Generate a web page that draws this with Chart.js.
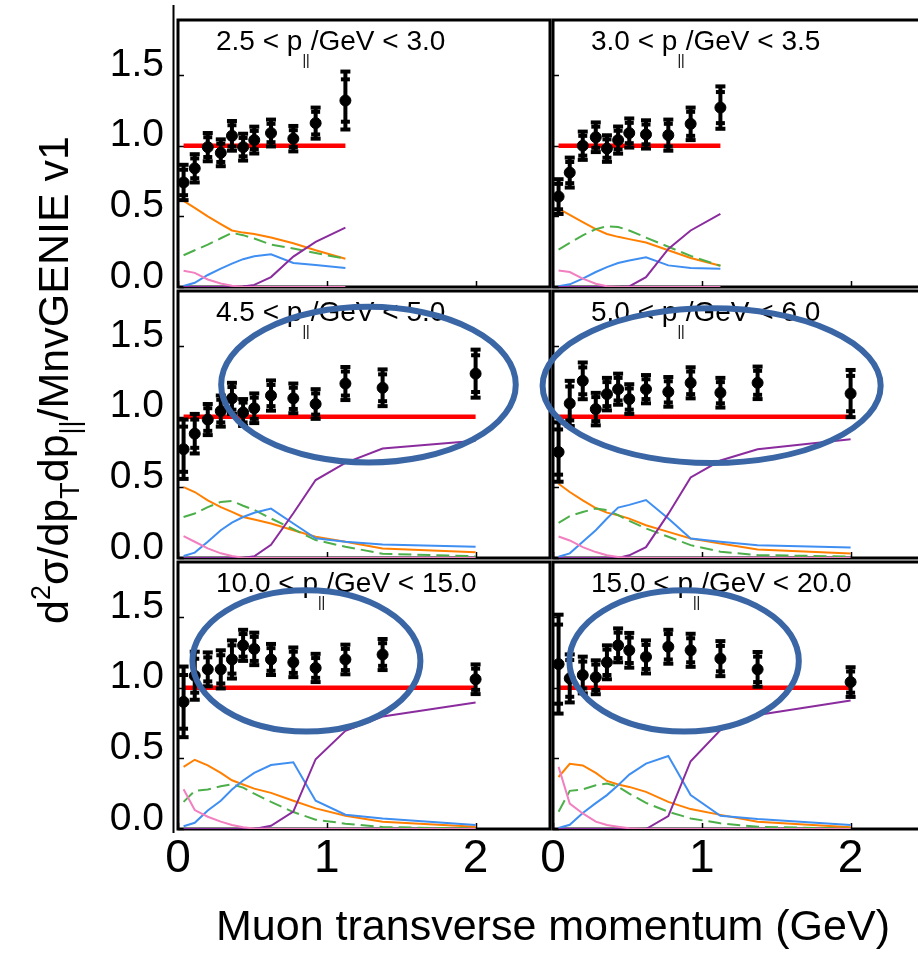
<!DOCTYPE html>
<html>
<head>
<meta charset="utf-8">
<script src="https://cdn.jsdelivr.net/npm/chart.js@4.4.1/dist/chart.umd.min.js"></script>
<style>
  html, body { margin: 0; background: #fff; }
  #page { position: relative; width: 918px; height: 953px; overflow: hidden; background: #fff; }
  #page canvas { position: absolute; left: 0; top: 0; }
</style>
</head>
<body>
<div id="page"></div>
<script>
// pT bin centres (GeV); the high-p|| slices carry two extra bins
const ptCentersShort = [0.0375, 0.1125, 0.2, 0.2875, 0.3625, 0.4375, 0.5125, 0.625, 0.775, 0.925, 1.125];
const ptCentersLong = [0.0375, 0.1125, 0.2, 0.2875, 0.3625, 0.4375, 0.5125, 0.625, 0.775, 0.925, 1.125, 1.375, 2.0];

const xTickValues = [0, 1, 2];
const yTickValues = [0, 0.5, 1.0, 1.5];

const sliceLabels = [
  ["2.5", "3.0"],
  ["3.0", "3.5"],
  ["4.5", "5.0"],
  ["5.0", "6.0"],
  ["10.0", "15.0"],
  ["15.0", "20.0"],
];

// 2.5 < p|| < 3.0
const s1Ratio = [0.74, 0.84, 0.99, 0.95, 1.07, 0.99, 1.04, 1.09, 1.05, 1.16, 1.32];
const s1Err = [0.125, 0.10, 0.10, 0.095, 0.105, 0.095, 0.095, 0.095, 0.09, 0.11, 0.205];
const s1Stat = [0.09, 0.07, 0.07, 0.065, 0.075, 0.065, 0.065, 0.065, 0.06, 0.08, 0.15];
const s1Orange = [0.61, 0.56, 0.50, 0.445, 0.40, 0.385, 0.375, 0.35, 0.31, 0.26, 0.20];
const s1Green = [0.225, 0.26, 0.30, 0.345, 0.383, 0.367, 0.343, 0.30, 0.272, 0.24, 0.20];
const s1Blue = [0.007, 0.03, 0.085, 0.13, 0.166, 0.197, 0.218, 0.232, 0.17, 0.155, 0.135];
const s1Purple = [0, 0, 0, 0, 0, 0.003, 0.015, 0.07, 0.215, 0.32, 0.42];
const s1Pink = [0.115, 0.10, 0.053, 0.025, 0.009, 0.002, 0, 0, 0, 0, 0];

// 3.0 < p|| < 3.5
const s2Ratio = [0.64, 0.81, 1.0, 1.06, 0.98, 1.04, 1.09, 1.08, 1.075, 1.155, 1.27];
const s2Err = [0.123, 0.106, 0.1, 0.105, 0.094, 0.096, 0.103, 0.1, 0.11, 0.115, 0.15];
const s2Stat = [0.09, 0.075, 0.07, 0.075, 0.065, 0.066, 0.072, 0.07, 0.08, 0.085, 0.11];
const s2Orange = [0.554, 0.51, 0.46, 0.41, 0.375, 0.355, 0.339, 0.315, 0.26, 0.205, 0.15];
const s2Green = [0.265, 0.312, 0.366, 0.41, 0.43, 0.425, 0.40, 0.35, 0.285, 0.22, 0.15];
const s2Blue = [0.005, 0.019, 0.059, 0.106, 0.141, 0.17, 0.188, 0.21, 0.153, 0.134, 0.13];
const s2Purple = [0, 0, 0, 0, 0, 0, 0.004, 0.07, 0.27, 0.40, 0.517];
const s2Pink = [0.117, 0.106, 0.059, 0.023, 0.005, 0, 0, 0, 0, 0, 0];

// 4.5 < p|| < 5.0
const s3Ratio = [0.77, 0.88, 0.98, 1.04, 1.13, 1.03, 1.06, 1.15, 1.13, 1.09, 1.235, 1.205, 1.305];
const s3Err = [0.21, 0.14, 0.11, 0.11, 0.11, 0.095, 0.105, 0.107, 0.105, 0.105, 0.117, 0.13, 0.17];
const s3Stat = [0.16, 0.10, 0.08, 0.08, 0.08, 0.07, 0.075, 0.075, 0.075, 0.075, 0.085, 0.095, 0.13];
const s3Orange = [0.502, 0.467, 0.408, 0.36, 0.326, 0.29, 0.272, 0.244, 0.197, 0.15, 0.115, 0.068, 0.04];
const s3Green = [0.29, 0.315, 0.36, 0.397, 0.404, 0.37, 0.34, 0.28, 0.204, 0.127, 0.08, 0.03, 0.012];
const s3Blue = [0.014, 0.038, 0.115, 0.197, 0.25, 0.29, 0.32, 0.35, 0.244, 0.14, 0.115, 0.096, 0.08];
const s3Purple = [0, 0, 0, 0, 0, 0, 0.012, 0.094, 0.317, 0.552, 0.674, 0.775, 0.83];
const s3Pink = [0.155, 0.115, 0.068, 0.033, 0.014, 0.002, 0, 0, 0, 0, 0, 0, 0];

// 5.0 < p|| < 6.0
const s4Ratio = [0.75, 1.094, 1.254, 1.054, 1.16, 1.195, 1.125, 1.195, 1.176, 1.24, 1.17, 1.24, 1.164];
const s4Err = [0.21, 0.16, 0.13, 0.115, 0.115, 0.11, 0.105, 0.10, 0.105, 0.11, 0.105, 0.115, 0.167];
const s4Stat = [0.16, 0.12, 0.095, 0.085, 0.085, 0.08, 0.075, 0.07, 0.075, 0.08, 0.075, 0.085, 0.125];
const s4Orange = [0.526, 0.467, 0.408, 0.354, 0.321, 0.303, 0.279, 0.232, 0.185, 0.138, 0.103, 0.06, 0.032];
const s4Green = [0.249, 0.296, 0.326, 0.35, 0.34, 0.303, 0.263, 0.209, 0.15, 0.091, 0.045, 0.021, 0.01];
const s4Blue = [0.009, 0.033, 0.115, 0.197, 0.28, 0.357, 0.376, 0.41, 0.28, 0.138, 0.115, 0.09, 0.075];
const s4Purple = [0, 0, 0, 0, 0, 0, 0.019, 0.077, 0.312, 0.57, 0.69, 0.77, 0.84];
const s4Pink = [0.152, 0.124, 0.077, 0.042, 0.019, 0.007, 0, 0, 0, 0, 0, 0, 0];

// 10 < p|| < 15
const s5Ratio = [0.90, 1.085, 1.13, 1.13, 1.20, 1.30, 1.275, 1.20, 1.18, 1.14, 1.20, 1.235, 1.06];
const s5Err = [0.25, 0.17, 0.12, 0.135, 0.135, 0.11, 0.115, 0.11, 0.105, 0.10, 0.105, 0.11, 0.105];
const s5Stat = [0.19, 0.12, 0.085, 0.10, 0.10, 0.08, 0.085, 0.08, 0.075, 0.07, 0.075, 0.08, 0.075];
const s5Orange = [0.44, 0.49, 0.45, 0.397, 0.345, 0.315, 0.286, 0.256, 0.20, 0.146, 0.094, 0.052, 0.016];
const s5Green = [0.192, 0.27, 0.28, 0.303, 0.317, 0.293, 0.25, 0.192, 0.12, 0.066, 0.038, 0.014, 0.002];
const s5Blue = [0.02, 0.044, 0.131, 0.20, 0.28, 0.343, 0.397, 0.453, 0.472, 0.20, 0.101, 0.075, 0.028];
const s5Purple = [0, 0, 0, 0, 0, 0, 0, 0.023, 0.123, 0.494, 0.695, 0.796, 0.895];
const s5Pink = [0.282, 0.134, 0.087, 0.052, 0.028, 0.012, 0.003, 0, 0, 0, 0, 0, 0];

// 15 < p|| < 20
const s6Ratio = [1.167, 1.066, 1.09, 1.074, 1.18, 1.30, 1.265, 1.218, 1.29, 1.265, 1.206, 1.13, 1.04];
const s6Err = [0.35, 0.17, 0.13, 0.12, 0.12, 0.12, 0.123, 0.117, 0.12, 0.117, 0.124, 0.123, 0.105];
const s6Stat = [0.28, 0.13, 0.095, 0.09, 0.09, 0.09, 0.09, 0.085, 0.09, 0.085, 0.09, 0.09, 0.075];
const s6Orange = [0.368, 0.462, 0.45, 0.397, 0.34, 0.315, 0.298, 0.263, 0.192, 0.141, 0.10, 0.052, 0.012];
const s6Green = [0.122, 0.27, 0.28, 0.31, 0.322, 0.30, 0.25, 0.185, 0.122, 0.075, 0.04, 0.016, 0.002];
const s6Blue = [0.007, 0.03, 0.113, 0.183, 0.24, 0.31, 0.385, 0.463, 0.517, 0.24, 0.094, 0.07, 0.028];
const s6Purple = [0, 0, 0, 0, 0, 0, 0, 0, 0.092, 0.48, 0.70, 0.807, 0.91];
const s6Pink = [0.44, 0.18, 0.11, 0.052, 0.028, 0.016, 0.005, 0, 0, 0, 0, 0, 0];

// highlighted regions, in axis units: [centre pT, centre ratio, half-width, half-height]
const highlights = [null, null, [1.28, 1.227, 0.99, 0.551], [1.066, 1.22, 1.136, 0.548], [0.863, 1.19, 0.766, 0.50], [0.881, 1.19, 0.771, 0.50]];

const slices = [
  { x: ptCentersShort, ratio: s1Ratio, err: s1Err, stat: s1Stat, orange: s1Orange, green: s1Green, blue: s1Blue, purple: s1Purple, pink: s1Pink },
  { x: ptCentersShort, ratio: s2Ratio, err: s2Err, stat: s2Stat, orange: s2Orange, green: s2Green, blue: s2Blue, purple: s2Purple, pink: s2Pink },
  { x: ptCentersLong, ratio: s3Ratio, err: s3Err, stat: s3Stat, orange: s3Orange, green: s3Green, blue: s3Blue, purple: s3Purple, pink: s3Pink },
  { x: ptCentersLong, ratio: s4Ratio, err: s4Err, stat: s4Stat, orange: s4Orange, green: s4Green, blue: s4Blue, purple: s4Purple, pink: s4Pink },
  { x: ptCentersLong, ratio: s5Ratio, err: s5Err, stat: s5Stat, orange: s5Orange, green: s5Green, blue: s5Blue, purple: s5Purple, pink: s5Pink },
  { x: ptCentersLong, ratio: s6Ratio, err: s6Err, stat: s6Stat, orange: s6Orange, green: s6Green, blue: s6Blue, purple: s6Purple, pink: s6Pink },
];

// canvases run a little past the page so the right-hand pads are cut at the edge
const CANVAS_W = 932;
const CANVAS_H = 953;
const colLeft = [178, 553];
const colRight = [550, 925];
const rowTop = [20, 291, 562];
const rowBottom = [287, 558, 829];
const PX_PER_GEV = 148.8;
const Y_MAX = 1.89;
const FONT = "'Liberation Sans', Arial, Helvetica, sans-serif";

const modelColors = {
  orange: "#ff7f00",
  green: "#4daf4a",
  blue: "#3f8ef2",
  purple: "#8a2c9e",
  pink: "#f27fbf",
};

Chart.defaults.font.family = FONT;
const page = document.querySelector("#page");

function toPoints(xs, ys) {
  return ys.map((y, i) => ({ x: xs[i], y }));
}

function curve(xs, ys, color, dashed) {
  return {
    data: toPoints(xs, ys),
    borderColor: color,
    borderWidth: 2,
    borderDash: dashed ? [13, 6] : [],
    pointRadius: 0,
    tension: 0,
  };
}

// box around each pad plus inward tick marks
const padFrame = {
  id: "padFrame",
  beforeDatasetsDraw(chart) {
    const { ctx, chartArea: a, scales: { x, y } } = chart;
    ctx.save();
    ctx.strokeStyle = "#000";
    ctx.lineWidth = 1.5;
    ctx.beginPath();
    yTickValues.forEach((v) => {
      const py = Math.round(y.getPixelForValue(v)) + 0.5;
      ctx.moveTo(a.left, py);
      ctx.lineTo(a.left + 6, py);
    });
    xTickValues.forEach((v) => {
      const px = Math.round(x.getPixelForValue(v)) + 0.5;
      ctx.moveTo(px, a.bottom);
      ctx.lineTo(px, a.bottom - 6);
    });
    ctx.stroke();
    ctx.lineWidth = 3;
    ctx.strokeRect(a.left, a.top, a.right - a.left, a.bottom - a.top);
    ctx.restore();
  },
};

function errorBars(slice) {
  return {
    id: "errorBars",
    afterDatasetDraw(chart, args) {
      if (args.index !== 1) return; // after the unit line, under the markers
      const { ctx, scales: { x, y } } = chart;
      ctx.save();
      ctx.strokeStyle = "#000";
      ctx.fillStyle = "#000";
      ctx.lineWidth = 4;
      slice.ratio.forEach((v, i) => {
        const px = x.getPixelForValue(slice.x[i]);
        const hi = y.getPixelForValue(v + slice.err[i]);
        const lo = y.getPixelForValue(v - slice.err[i]);
        const sHi = y.getPixelForValue(v + slice.stat[i]);
        const sLo = y.getPixelForValue(v - slice.stat[i]);
        ctx.beginPath();
        ctx.moveTo(px, hi);
        ctx.lineTo(px, lo);
        ctx.stroke();
        [hi, lo].forEach((py) => ctx.fillRect(px - 5, py - 2, 10, 4));
        [sHi, sLo].forEach((py) => ctx.fillRect(px - 4.5, py - 2, 9, 4));
      });
      ctx.restore();
    },
  };
}

function sliceTitle(range) {
  return {
    id: "sliceTitle",
    afterDatasetsDraw(chart) {
      const { ctx, chartArea: a } = chart;
      const x0 = a.left + 38;
      const base = a.top + 30;
      ctx.save();
      ctx.fillStyle = "#000";
      ctx.textBaseline = "alphabetic";
      ctx.textAlign = "left";
      ctx.font = `28px ${FONT}`;
      const head = `${range[0]} < p`;
      ctx.fillText(head, x0, base);
      let cx = x0 + ctx.measureText(head).width;
      ctx.font = `14px ${FONT}`;
      ctx.fillText("||", cx, base + 15);
      cx += ctx.measureText("||").width + 1;
      ctx.font = `28px ${FONT}`;
      ctx.fillText(`/GeV < ${range[1]}`, cx, base);
      ctx.restore();
    },
  };
}

function highlightRing(spec) {
  return {
    id: "highlightRing",
    afterDraw(chart) {
      if (!spec) return;
      const { ctx, scales: { x, y } } = chart;
      const [cxv, cyv, rxv, ryv] = spec;
      const cx = x.getPixelForValue(cxv);
      const cy = y.getPixelForValue(cyv);
      const rx = x.getPixelForValue(cxv + rxv) - cx;
      const ry = cy - y.getPixelForValue(cyv + ryv);
      ctx.save();
      ctx.strokeStyle = "#3a66a5";
      ctx.lineWidth = 6;
      ctx.beginPath();
      ctx.ellipse(cx, cy, rx, ry, 0, 0, Math.PI * 2);
      ctx.stroke();
      ctx.restore();
    },
  };
}

// shared axis titles and the outer left rule
const pageLabels = {
  id: "pageLabels",
  afterDraw(chart) {
    const { ctx } = chart;
    ctx.save();
    ctx.strokeStyle = "#000";
    ctx.lineWidth = 2;
    ctx.beginPath();
    ctx.moveTo(173.5, 5);
    ctx.lineTo(173.5, 833);
    ctx.stroke();

    ctx.fillStyle = "#000";
    ctx.textBaseline = "alphabetic";
    ctx.textAlign = "center";
    ctx.font = `43px ${FONT}`;
    ctx.fillText("Muon transverse momentum (GeV)", 553, 940);

    const parts = [
      { text: "d", size: 43, dy: 0 },
      { text: "2", size: 27, dy: -18 },
      { text: "σ/dp", size: 43, dy: 0 },
      { text: "T", size: 27, dy: 11 },
      { text: "dp", size: 43, dy: 0 },
      { text: "||", size: 27, dy: 11 },
      { text: "/MnvGENIE v1", size: 43, dy: 0 },
    ];
    ctx.translate(68, 624);
    ctx.rotate(-Math.PI / 2);
    ctx.textAlign = "left";
    let pos = 0;
    parts.forEach((part) => {
      ctx.font = `${part.size}px ${FONT}`;
      ctx.fillText(part.text, pos, part.dy);
      pos += ctx.measureText(part.text).width;
    });
    ctx.restore();
  },
};

function drawSlice(slice, index) {
  const row = Math.floor(index / 2);
  const col = index % 2;
  const showY = col === 0;
  const showX = row === 2;
  const yAxisWidth = showY ? 90 : 0;
  const xAxisHeight = showX ? 70 : 0;
  const left = colLeft[col];
  const right = colRight[col];
  const top = rowTop[row];
  const bottom = rowBottom[row];

  const canvas = document.createElement("canvas");
  canvas.width = CANVAS_W;
  canvas.height = CANVAS_H;
  canvas.style.width = `${CANVAS_W}px`;
  canvas.style.height = `${CANVAS_H}px`;
  page.appendChild(canvas);

  const last = slice.x.length - 1;
  const plugins = [padFrame, errorBars(slice), sliceTitle(sliceLabels[index]), highlightRing(highlights[index])];
  if (index === 0) plugins.push(pageLabels);

  new Chart(canvas, {
    type: "line",
    data: {
      datasets: [
        {
          data: toPoints(slice.x, slice.ratio),
          showLine: false,
          pointRadius: 5.5,
          pointBackgroundColor: "#000",
          pointBorderColor: "#000",
          pointBorderWidth: 1,
        },
        {
          data: [{ x: slice.x[0], y: 1 }, { x: slice.x[last], y: 1 }],
          borderColor: "#ff0000",
          borderWidth: 4.5,
          pointRadius: 0,
        },
        curve(slice.x, slice.pink, modelColors.pink, false),
        curve(slice.x, slice.purple, modelColors.purple, false),
        curve(slice.x, slice.blue, modelColors.blue, false),
        curve(slice.x, slice.green, modelColors.green, true),
        curve(slice.x, slice.orange, modelColors.orange, false),
      ],
    },
    options: {
      responsive: false,
      animation: false,
      events: [],
      layout: {
        padding: {
          left: left - yAxisWidth,
          top,
          right: CANVAS_W - right,
          bottom: CANVAS_H - bottom - xAxisHeight,
        },
      },
      plugins: {
        legend: { display: false },
        tooltip: { enabled: false },
      },
      scales: {
        x: {
          type: "linear",
          min: 0,
          max: (right - left) / PX_PER_GEV,
          display: showX,
          grid: { display: false, drawTicks: false },
          border: { display: false },
          afterBuildTicks: (axis) => {
            axis.ticks = xTickValues.map((value) => ({ value }));
          },
          afterFit: (axis) => {
            axis.height = xAxisHeight;
            axis.paddingLeft = 0;
            axis.paddingRight = 0;
          },
          ticks: {
            display: showX,
            autoSkip: false,
            maxRotation: 0,
            padding: 3,
            color: "#000",
            font: { size: 46 },
            callback: (value) => String(value),
          },
        },
        y: {
          min: 0,
          max: Y_MAX,
          display: showY,
          grid: { display: false, drawTicks: false },
          border: { display: false },
          afterBuildTicks: (axis) => {
            axis.ticks = yTickValues.map((value) => ({ value }));
          },
          afterFit: (axis) => {
            axis.width = yAxisWidth;
            axis.paddingTop = 0;
            axis.paddingBottom = 0;
          },
          ticks: {
            display: showY,
            autoSkip: false,
            padding: 14,
            labelOffset: -10,
            color: "#000",
            font: { size: 39 },
            callback: (value) => Number(value).toFixed(1),
          },
        },
      },
    },
    plugins,
  });
}

slices.forEach(drawSlice);
</script>
</body>
</html>
